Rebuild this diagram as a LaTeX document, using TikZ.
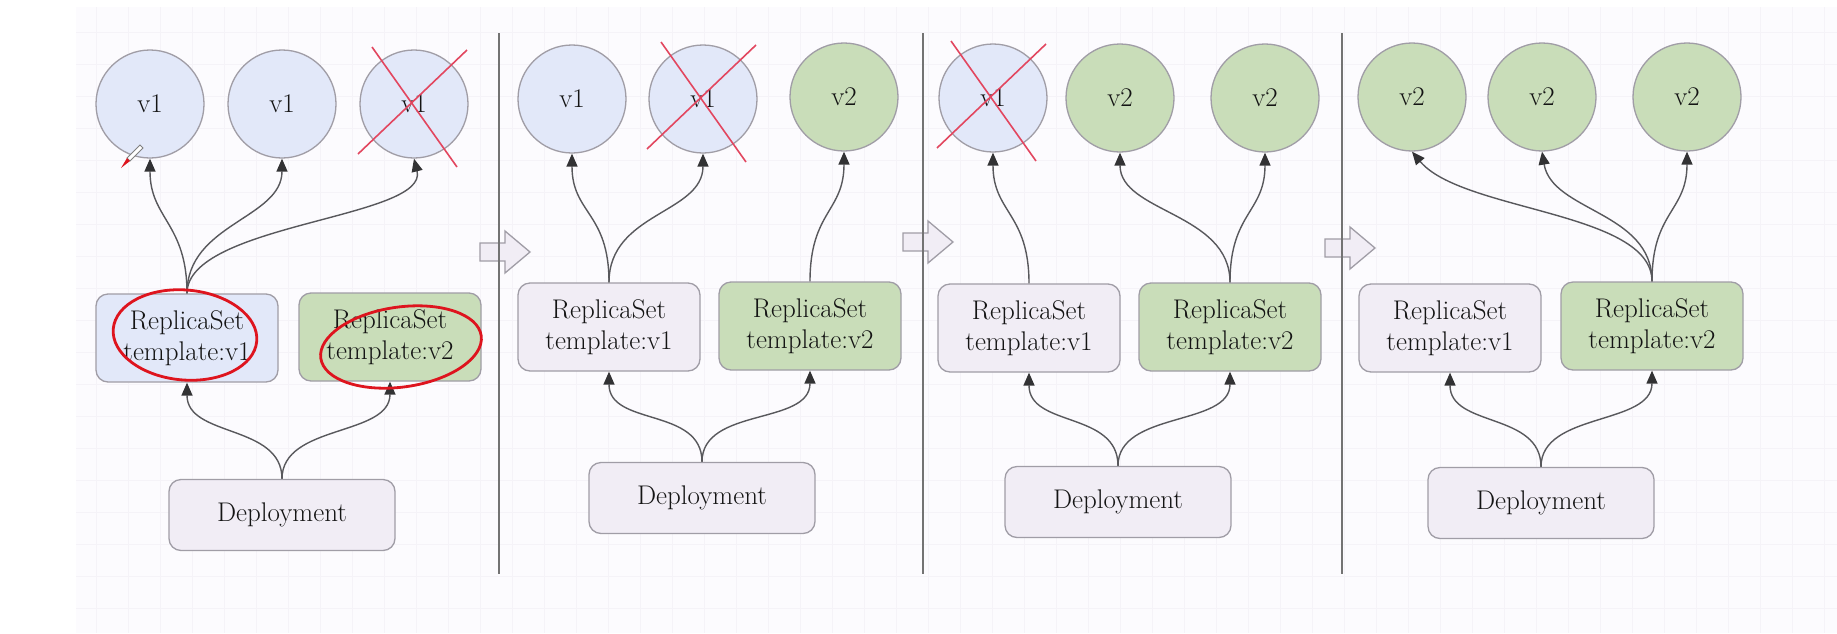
\documentclass[tikz,border=0pt]{standalone}
\usepackage{fontspec}
\usepackage{tikz}
\usetikzlibrary{arrows.meta,calc}

\definecolor{blauv}{RGB}{226,232,249}
\definecolor{gruenv}{RGB}{201,221,185}
\definecolor{grauv}{RGB}{241,237,245}
\definecolor{rahmen}{RGB}{160,157,166}
\definecolor{linie}{RGB}{88,88,92}
\definecolor{spitze}{RGB}{50,50,52}
\definecolor{kreuzrot}{RGB}{226,70,95}
\definecolor{stiftrot}{RGB}{222,20,30}
\definecolor{hinterg}{RGB}{252,251,254}
\definecolor{raster}{RGB}{245,243,248}

\begin{document}
\begin{tikzpicture}[%show background rectangle,
    x=1pt, y=-1pt,
    font=\fontsize{27}{31}\selectfont,
    pod/.style={circle, draw=rahmen, line width=1.3pt, minimum size=108pt,
        inner sep=0pt, text=black!92},
    podv1/.style={pod, fill=blauv},
    podv2/.style={pod, fill=gruenv},
    rsbox/.style={rectangle, rounded corners=12pt, draw=rahmen, line width=1.3pt,
        minimum width=182pt, minimum height=88pt, align=center, fill=grauv,
        text=black!92},
    depbox/.style={rsbox, minimum width=226pt, minimum height=71pt},
    kante/.style={draw=linie, line width=1.4pt,
        -{Triangle[length=13pt,width=11pt,color=spitze]}},
    kreuz/.style={draw=kreuzrot, line width=1.6pt},
    markierung/.style={draw=stiftrot, line width=2.8pt},
    trenn/.style={draw=black!55, line width=1.8pt},
    blockpfeil/.style={draw=rahmen, fill=grauv, line width=1.3pt, line join=miter}
    ]
        \useasboundingbox (0,0) rectangle (1837,633);

        % Hintergrund
        \fill[hinterg] (76,7) rectangle (1837,633);
        \draw[raster, line width=0.6pt, step=32pt] (76,633) grid (1837,7);

        % Blockpfeile
        \draw[blockpfeil] (480,243) -- (505,243) -- (505,231) -- (530,252)
            -- (505,273) -- (505,261) -- (480,261) -- cycle;
        \draw[blockpfeil] (903,233) -- (928,233) -- (928,221) -- (953,242)
            -- (928,263) -- (928,251) -- (903,251) -- cycle;
        \draw[blockpfeil] (1325,239) -- (1350,239) -- (1350,227) -- (1375,248)
            -- (1350,269) -- (1350,257) -- (1325,257) -- cycle;

        % Trennlinien
        \draw[trenn] (499,33) -- (499,574)
                     (923,33) -- (923,574)
                     (1342,33) -- (1342,574);

        % Schritt 1
        \node[podv1] (P1-a) at (150,104) {v1};
        \node[podv1] (P1-b) at (282,104) {v1};
        \node[podv1] (P1-c) at (414,104) {v1};
        \node[rsbox, fill=blauv]  (RS1-v1) at (187,338) {ReplicaSet\\template:v1};
        \node[rsbox, fill=gruenv] (RS1-v2) at (390,337) {ReplicaSet\\template:v2};
        \node[depbox] (D1) at (282,515) {Deployment};

        \draw[kante] (RS1-v1.north) .. controls +(0,-70) and +(0,60) .. (P1-a.south);
        \draw[kante] (RS1-v1.north) .. controls +(0,-70) and +(0,60) .. (P1-b.south);
        \draw[kante] (RS1-v1.north) .. controls +(0,-70) and +(15,60) .. (P1-c.south);
        \draw[kante] (D1.north) .. controls +(0,-55) and +(0,55) .. (RS1-v1.south);
        \draw[kante] (D1.north) .. controls +(0,-55) and +(0,55) .. (RS1-v2.south);

        % Schritt 2
        \node[podv1] (P2-a) at (572,99) {v1};
        \node[podv1] (P2-b) at (703,99) {v1};
        \node[podv2] (P2-c) at (844,97) {v2};
        \node[rsbox] (RS2-v1) at (609,327) {ReplicaSet\\template:v1};
        \node[rsbox, fill=gruenv] (RS2-v2) at (810,326) {ReplicaSet\\template:v2};
        \node[depbox] (D2) at (702,498) {Deployment};

        \draw[kante] (RS2-v1.north) .. controls +(0,-70) and +(0,60) .. (P2-a.south);
        \draw[kante] (RS2-v1.north) .. controls +(0,-70) and +(0,60) .. (P2-b.south);
        \draw[kante] (RS2-v2.north) .. controls +(0,-70) and +(0,60) .. (P2-c.south);
        \draw[kante] (D2.north) .. controls +(0,-55) and +(0,55) .. (RS2-v1.south);
        \draw[kante] (D2.north) .. controls +(0,-55) and +(0,55) .. (RS2-v2.south);

        % Schritt 3
        \node[podv1] (P3-a) at (993,98) {v1};
        \node[podv2] (P3-b) at (1120,98) {v2};
        \node[podv2] (P3-c) at (1265,98) {v2};
        \node[rsbox] (RS3-v1) at (1029,328) {ReplicaSet\\template:v1};
        \node[rsbox, fill=gruenv] (RS3-v2) at (1230,327) {ReplicaSet\\template:v2};
        \node[depbox] (D3) at (1118,502) {Deployment};

        \draw[kante] (RS3-v1.north) .. controls +(0,-70) and +(0,60) .. (P3-a.south);
        \draw[kante] (RS3-v2.north) .. controls +(0,-70) and +(0,60) .. (P3-b.south);
        \draw[kante] (RS3-v2.north) .. controls +(0,-70) and +(0,60) .. (P3-c.south);
        \draw[kante] (D3.north) .. controls +(0,-55) and +(0,55) .. (RS3-v1.south);
        \draw[kante] (D3.north) .. controls +(0,-55) and +(0,55) .. (RS3-v2.south);

        % Schritt 4
        \node[podv2] (P4-a) at (1412,97) {v2};
        \node[podv2] (P4-b) at (1542,97) {v2};
        \node[podv2] (P4-c) at (1687,97) {v2};
        \node[rsbox] (RS4-v1) at (1450,328) {ReplicaSet\\template:v1};
        \node[rsbox, fill=gruenv] (RS4-v2) at (1652,326) {ReplicaSet\\template:v2};
        \node[depbox] (D4) at (1541,503) {Deployment};

        \draw[kante] (RS4-v2.north) .. controls +(0,-70) and +(50,60) .. (P4-a.south);
        \draw[kante] (RS4-v2.north) .. controls +(0,-70) and +(10,60) .. (P4-b.south);
        \draw[kante] (RS4-v2.north) .. controls +(0,-70) and +(0,60) .. (P4-c.south);
        \draw[kante] (D4.north) .. controls +(0,-55) and +(0,55) .. (RS4-v1.south);
        \draw[kante] (D4.north) .. controls +(0,-55) and +(0,55) .. (RS4-v2.south);

        % Kreuze
        \draw[kreuz] ($(P1-c)+(-42,-57)$) -- ($(P1-c)+(43,63)$)
                     ($(P1-c)+(53,-54)$) -- ($(P1-c)+(-56,50)$);
        \draw[kreuz] ($(P2-b)+(-42,-57)$) -- ($(P2-b)+(43,63)$)
                     ($(P2-b)+(53,-54)$) -- ($(P2-b)+(-56,50)$);
        \draw[kreuz] ($(P3-a)+(-42,-57)$) -- ($(P3-a)+(43,63)$)
                     ($(P3-a)+(53,-54)$) -- ($(P3-a)+(-56,50)$);

        % Markierungen
        \draw[markierung] ($(RS1-v1)+(-2,-3)$) circle [x radius=72, y radius=45, rotate=-5];
        \draw[markierung] ($(RS1-v2)+(11,10)$) circle [x radius=81, y radius=40, rotate=8];

        % Stift
        \draw[draw=black!50, fill=white, line width=0.8pt]
            (140,145) -- (143,148) -- (130,161) -- (127,158) -- cycle;
        \fill[stiftrot] (127,158) -- (130,161) -- (121,168) -- cycle;
    \end{tikzpicture}
\end{document}
